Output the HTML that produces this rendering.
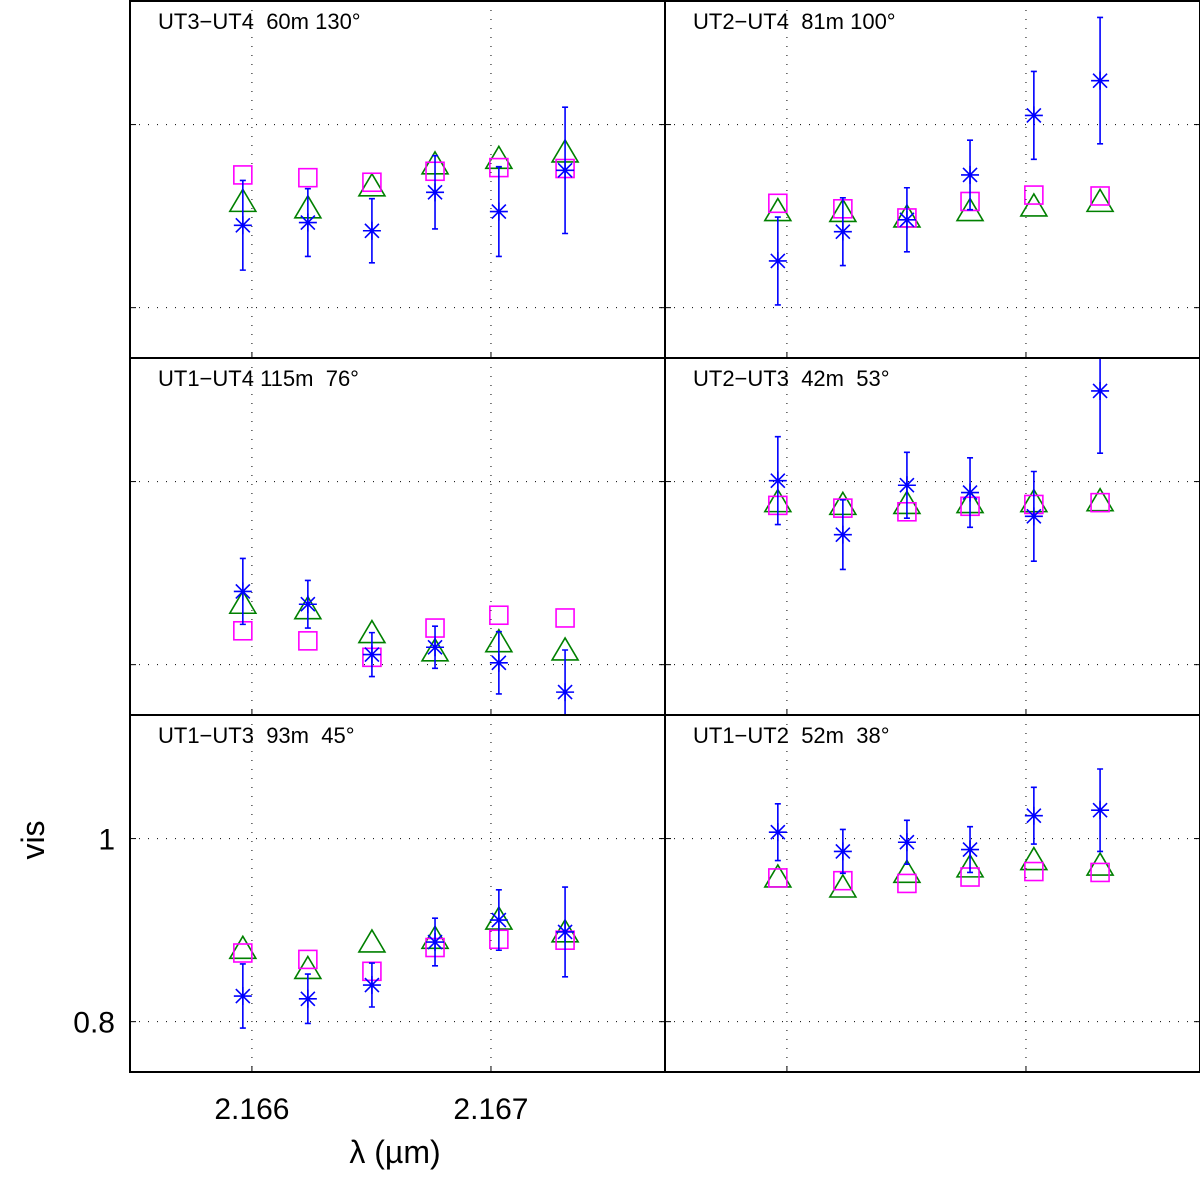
<!DOCTYPE html>
<html><head><meta charset="utf-8"><style>
body{margin:0;background:#fff}
svg{display:block}
text{font-family:"Liberation Sans",sans-serif;white-space:pre}
</style></head><body>
<svg id="chart" width="1200" height="1180"></svg>
<script>
const xVals=[2.165962,2.166234,2.166502,2.166766,2.167033,2.167310];
const panelTitles=["UT3\u2212UT4  60m 130\u00b0","UT2\u2212UT4  81m 100\u00b0","UT1\u2212UT4 115m  76\u00b0","UT2\u2212UT3  42m  53\u00b0","UT1\u2212UT3  93m  45\u00b0","UT1\u2212UT2  52m  38\u00b0"];
const triVals=[
[0.915,0.908,0.932,0.956,0.962,0.969],
[0.905,0.904,0.898,0.905,0.910,0.915],
[0.866,0.860,0.834,0.814,0.824,0.815],
[0.977,0.974,0.975,0.976,0.977,0.978],
[0.879,0.857,0.886,0.890,0.911,0.897],
[0.957,0.946,0.962,0.968,0.976,0.970]];
const sqVals=[
[0.945,0.942,0.937,0.949,0.953,0.952],
[0.914,0.908,0.898,0.916,0.923,0.922],
[0.837,0.826,0.808,0.840,0.854,0.851],
[0.974,0.971,0.967,0.973,0.975,0.977],
[0.875,0.868,0.855,0.881,0.890,0.889],
[0.957,0.954,0.951,0.958,0.964,0.963]];
const starVals=[
[0.890,0.893,0.884,0.926,0.905,0.950],
[0.851,0.883,0.896,0.945,1.010,1.048],
[0.880,0.866,0.811,0.819,0.802,0.770],
[1.001,0.942,0.996,0.988,0.962,1.099],
[0.828,0.825,0.840,0.887,0.911,0.898],
[1.007,0.986,0.996,0.988,1.025,1.031]];
const starErr=[
[0.049,0.037,0.035,0.040,0.049,0.069],
[0.048,0.037,0.035,0.038,0.048,0.069],
[0.036,0.026,0.024,0.023,0.034,0.046],
[0.048,0.038,0.036,0.038,0.049,0.068],
[0.035,0.027,0.024,0.026,0.033,0.049],
[0.031,0.024,0.024,0.025,0.031,0.045]];
const yTicks=[0.8,1];
const xTicks=[2.166,2.167];

const NS="http://www.w3.org/2000/svg";
const svg=document.getElementById('chart');
function mk(tag,attrs,parent){const e=document.createElementNS(NS,tag);for(const k in attrs)e.setAttribute(k,attrs[k]);(parent||svg).appendChild(e);return e;}
const X0=2.16549,X1=2.167728,Y0=0.745,Y1=1.135;
const PW=535,PH=357;
for(let p=0;p<6;p++){
  const col=p%2,row=Math.floor(p/2);
  const left=130+col*PW,top=1072-(3-row)*PH;
  const xs=v=>left+(v-X0)/(X1-X0)*PW;
  const ys=v=>top+PH-(v-Y0)/(Y1-Y0)*PH;
  const g=mk('g',{'clip-path':'url(#c'+p+')'});
  
  
  const cp=mk('clipPath',{id:'c'+p});mk('rect',{x:left,y:Math.max(top,0),width:PW,height:PH},cp);
  xTicks.forEach(t=>{const l=mk('line',{x1:xs(t),x2:xs(t),y1:top,y2:top+PH,stroke:'#000','stroke-width':1,'stroke-dasharray':'1 8'},g);
    mk('line',{x1:xs(t),x2:xs(t),y1:top+PH,y2:top+PH-6,stroke:'#000'},g);});
  yTicks.forEach(t=>{const l=mk('line',{x1:left,x2:left+PW,y1:ys(t),y2:ys(t),stroke:'#000','stroke-width':1,'stroke-dasharray':'1 8'},g);
    mk('line',{x1:left,x2:left+6,y1:ys(t),y2:ys(t),stroke:'#000'},g);mk('line',{x1:left+PW-6,x2:left+PW,y1:ys(t),y2:ys(t),stroke:'#000'},g);});
  for(let i=0;i<xVals.length;i++){
    const x=xs(xVals[i]);
    let y=ys(triVals[p][i]);
    const tr=mk('polygon',{points:`${x},${y-13} ${x+13},${y+9} ${x-13},${y+9}`,fill:'none',stroke:'#008000','stroke-width':1.6},g);
    
    y=ys(sqVals[p][i]);
    const sq=mk('rect',{x:x-9,y:y-9,width:18,height:18,fill:'none',stroke:'#ff00ff','stroke-width':1.6},g);
    
    y=ys(starVals[p][i]);const e=starErr[p][i];
    const y1=ys(starVals[p][i]+e),y2=ys(starVals[p][i]-e);
    const eb=mk('path',{d:`M${x},${y1}V${y2}M${x-3},${y1}H${x+3}M${x-3},${y2}H${x+3}`,stroke:'#0000ff','stroke-width':1.6,fill:'none'},g);
    
    const st=mk('path',{d:`M${x-9},${y}H${x+9}M${x},${y-9}V${y+9}M${x-7},${y-7}L${x+7},${y+7}M${x-7},${y+7}L${x+7},${y-7}`,stroke:'#0000ff','stroke-width':1.6,fill:'none'},g);
    
  }
  const fr=mk('rect',{x:left,y:top,width:PW,height:PH,fill:'none',stroke:'#000','stroke-width':2});
  
  const tt=mk('text',{x:left+28,y:top+28,'font-size':22,'xml:space':'preserve'});tt.textContent=panelTitles[p];
  
  if(p===4){
    yTicks.forEach(t=>{const tx=mk('text',{x:left-15,y:ys(t)+11,'font-size':30,'text-anchor':'end'});tx.textContent=String(t);
      });
    xTicks.forEach(t=>{const tx=mk('text',{x:xs(t),y:1119,'font-size':30,'text-anchor':'middle'});tx.textContent=t.toFixed(3);
      });
  }
}
const yl=mk('text',{x:0,y:0,'font-size':32,'text-anchor':'middle',transform:'translate(44,840) rotate(-90)'});yl.textContent='vis';

const xl=mk('text',{x:395,y:1163,'font-size':32,'text-anchor':'middle'});xl.textContent='\u03bb (\u00b5m)';

</script>
</body></html>
